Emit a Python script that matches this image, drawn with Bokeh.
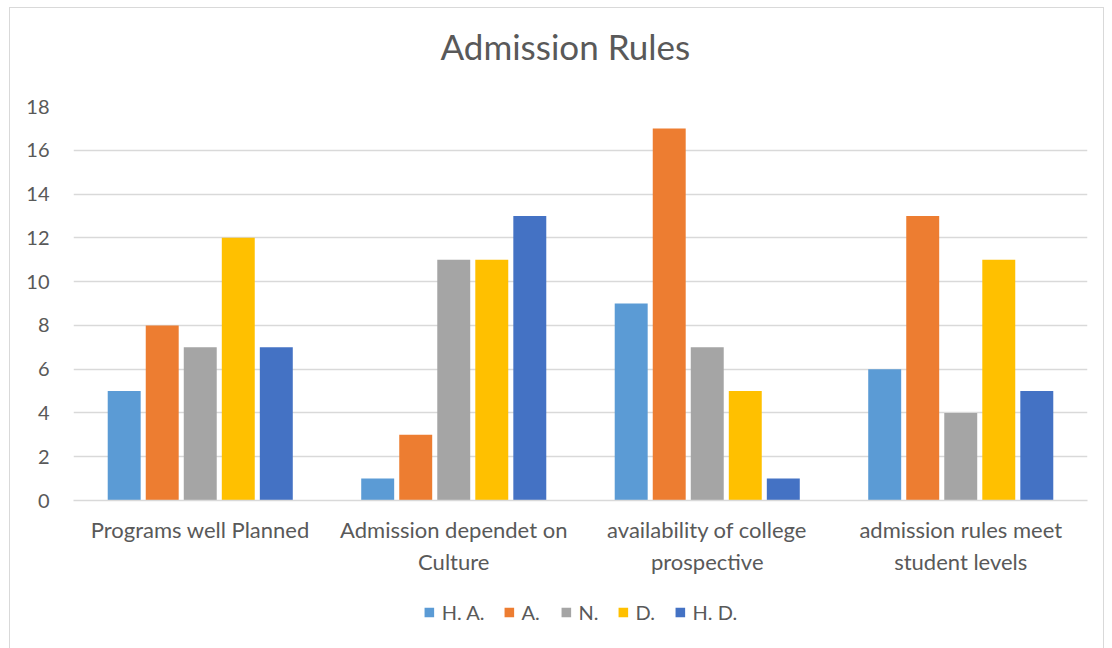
from bokeh.plotting import figure
from bokeh.layouts import column
from bokeh.models import ColumnDataSource, FactorRange, Range1d, Legend, LegendItem
from bokeh.transform import dodge
from bokeh.embed import file_html
from bokeh.resources import INLINE

categories = ["Programs well Planned", "Admission dependet on\nCulture",
              "availability of college\nprospective", "admission rules meet\nstudent levels"]
series_names = ["H. A.", "A.", "N.", "D.", "H. D."]
ha = [5, 1, 9, 6]
a = [8, 3, 17, 13]
n = [7, 11, 7, 4]
d = [12, 11, 5, 11]
hd = [7, 13, 1, 5]
y_ticks = [0, 2, 4, 6, 8, 10, 12, 14, 16, 18]

colors = ["#5B9BD5", "#ED7D31", "#A5A5A5", "#FFC000", "#4472C4"]
FONT = "Lato"
TXT = "#595959"

src = ColumnDataSource(dict(cat=categories, ha=ha, a=a, n=n, d=d, hd=hd))

p = figure(frame_width=1014, frame_height=394, output_backend="svg", toolbar_location=None,
           x_range=FactorRange(*categories, range_padding=0, factor_padding=0),
           y_range=Range1d(0, 18), tools="")
p.min_border_left = 63
p.min_border_right = 16
p.min_border_top = 98
p.min_border_bottom = 80
p.outline_line_color = None
p.background_fill_color = "white"
p.border_fill_color = "white"

p.title.text = "Admission Rules\n "
p.title.align = "left"
p.title.offset = 367
p.title.text_font = FONT
p.title.text_font_size = "35px"
p.title.text_line_height = 0.95
p.title.text_font_style = "normal"
p.title.text_color = TXT
p.title.standoff = 0

offsets = [-0.3, -0.15, 0.0, 0.15, 0.3]
fields = ["ha", "a", "n", "d", "hd"]
for f, off, c in zip(fields, offsets, colors):
    p.vbar(x=dodge("cat", off, range=p.x_range), top=f, width=0.13, bottom=0,
           source=src, fill_color=c, line_color=None)

p.yaxis.ticker = y_ticks
p.yaxis.axis_line_color = None
p.yaxis.major_tick_line_color = None
p.yaxis.minor_tick_line_color = None
p.yaxis.major_label_text_font = FONT
p.yaxis.major_label_text_font_size = "20px"
p.yaxis.major_label_text_color = TXT
p.yaxis.major_label_standoff = 18

p.xaxis.axis_line_color = "#D9D9D9"
p.xaxis.axis_line_width = 1.5
p.xaxis.major_tick_line_color = None
p.xaxis.minor_tick_line_color = None
p.xaxis.major_label_text_font = FONT
p.xaxis.major_label_text_font_size = "22px"
p.xaxis.major_label_text_color = TXT
p.xaxis.major_label_standoff = 9

p.xgrid.grid_line_color = None
p.ygrid.grid_line_color = "#D9D9D9"
p.ygrid.grid_line_width = 1.5

# legend strip below the chart (proxy renderers sit outside the visible range)
lf = figure(width=1093, height=70, output_backend="svg", toolbar_location=None, tools="",
            x_axis_type=None, y_axis_type=None, x_range=Range1d(0, 1), y_range=Range1d(0, 1))
lf.min_border_left = 0
lf.min_border_right = 6
lf.min_border_top = 0
lf.min_border_bottom = 6
lf.outline_line_color = None
lf.background_fill_color = "white"
lf.border_fill_color = "white"
proxy = ColumnDataSource(dict(x=[-5.0], top=[0.0]))
items = []
for c, name in zip(colors, series_names):
    r = lf.vbar(x="x", top="top", width=0.1, source=proxy, fill_color=c, line_color=None)
    items.append(LegendItem(label=name, renderers=[r]))
legend = Legend(items=items, orientation="horizontal", location="center")
legend.label_text_font = FONT
legend.label_text_font_size = "20px"
legend.label_text_color = TXT
legend.glyph_width = 12
legend.glyph_height = 12
legend.spacing = 18
legend.label_standoff = 7
legend.border_line_color = None
legend.background_fill_alpha = 0
legend.margin = 0
legend.padding = 3
lf.add_layout(legend, "center")

layout = column(p, lf, spacing=0)
layout.margin = (7, 0, 0, 9)
layout.styles = {"border": "1px solid #D9D9D9"}

open("out.html", "w").write(file_html(layout, INLINE))
